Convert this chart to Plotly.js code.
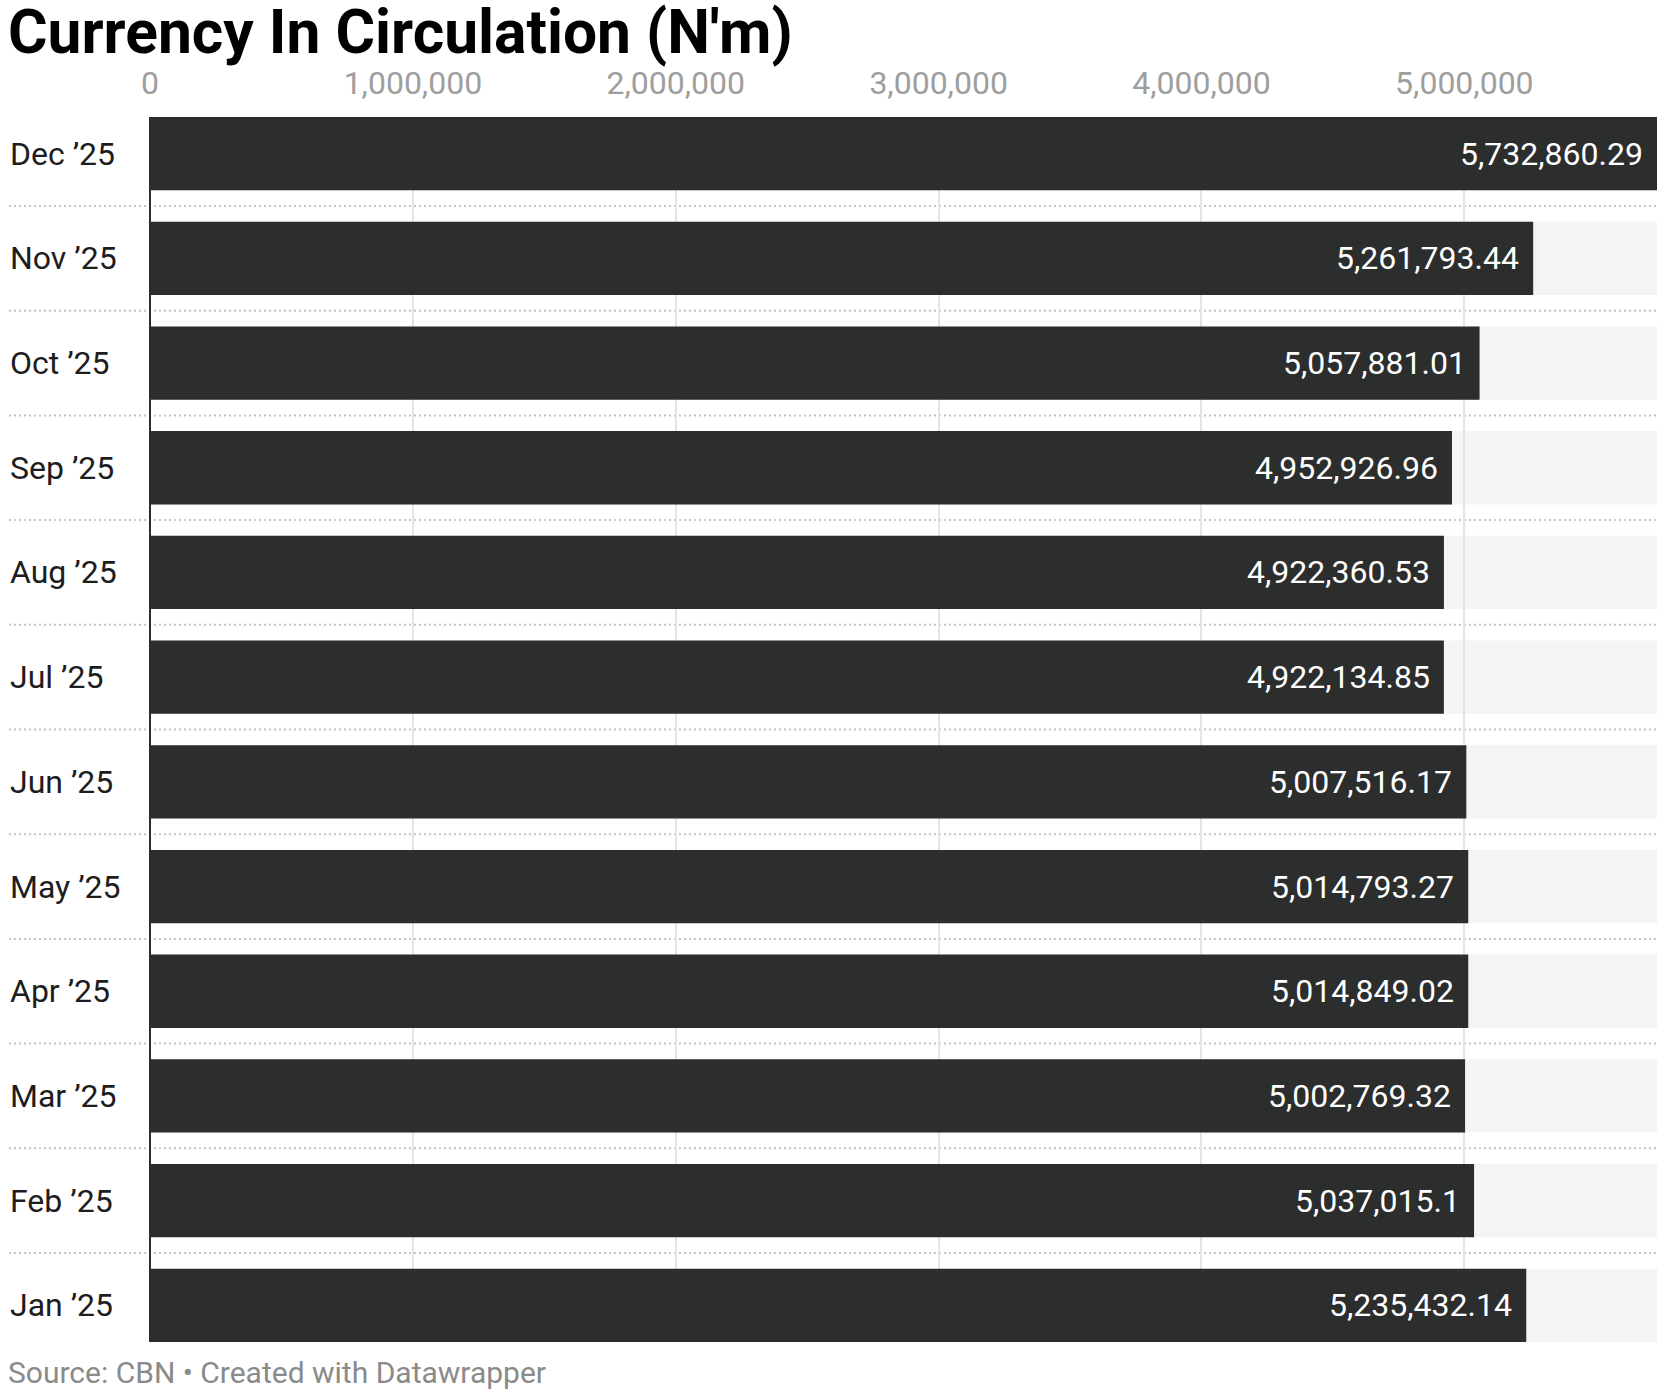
<!DOCTYPE html>
<html>
<head>
<meta charset="utf-8">
<script src="https://cdn.plot.ly/plotly-3.0.1.min.js"></script>
<style>
  html, body { margin: 0; padding: 0; background: #ffffff; }
  #chart { width: 1667px; height: 1400px; }
</style>
</head>
<body>
<div id="chart"></div>
<script>
// ---- Data ----
const months = ["Dec ’25", "Nov ’25", "Oct ’25", "Sep ’25", "Aug ’25", "Jul ’25",
                "Jun ’25", "May ’25", "Apr ’25", "Mar ’25", "Feb ’25", "Jan ’25"];
const currency = [5732860.29, 5261793.44, 5057881.01, 4952926.96, 4922360.53, 4922134.85,
                  5007516.17, 5014793.27, 5014849.02, 5002769.32, 5037015.1, 5235432.14];
const tickValues = [0, 1000000, 2000000, 3000000, 4000000, 5000000];
const titleText = "Currency In Circulation (N'm)";
const sourceText = "Source: CBN • Created with Datawrapper";

// ---- Layout constants ----
const W = 1667, H = 1400;
const mL = 150, mR = 10, mT = 117, mB = 58;
const plotW = W - mL - mR;
const half = 0.35;             // half bar width in category units
const n = months.length;
const maxVal = Math.max(...currency);

const fmt = v => v.toLocaleString("en-US", { maximumFractionDigits: 2 });

const shapes = [];
// light background bands behind each bar
months.forEach((m, i) => {
  shapes.push({
    type: "rect", xref: "x", yref: "y", layer: "below",
    x0: 0, x1: maxVal, y0: i - half, y1: i + half,
    fillcolor: "#f3f4f4", line: { width: 0 }
  });
});
// dotted separators between rows
for (let i = 0; i < n - 1; i++) {
  shapes.push({
    type: "line", xref: "paper", yref: "y", layer: "below",
    x0: (9 - mL) / plotW, x1: 1, y0: i + 0.5, y1: i + 0.5,
    line: { color: "#c4c4c4", width: 2, dash: "2px,3px" }
  });
}

const annotations = [];
// category labels (left aligned)
months.forEach((m, i) => {
  annotations.push({
    xref: "paper", yref: "y", x: (8 - mL) / plotW, y: i,
    xanchor: "left", yanchor: "middle", showarrow: false,
    text: m, font: { family: "Roboto", size: 32, color: "#1d1d1d" }
  });
});
// value labels inside bars
months.forEach((m, i) => {
  annotations.push({
    xref: "x", yref: "y", x: currency[i], y: i,
    xanchor: "right", yanchor: "middle", xshift: -12, showarrow: false,
    text: fmt(currency[i]), font: { family: "Roboto", size: 32, color: "#ffffff" }
  });
});
// source line
annotations.push({
  xref: "paper", yref: "paper", x: (6 - mL) / plotW, y: 0,
  yshift: -(1372 - (H - mB)), xanchor: "left", yanchor: "middle", showarrow: false,
  text: sourceText, font: { family: "Roboto", size: 30, color: "#8a8a8a" }
});

const trace = {
  type: "bar",
  orientation: "h",
  y: months,
  x: currency,
  marker: { color: "#2c2d2d", line: { width: 0 } },
  hoverinfo: "skip"
};

const layout = {
  width: W, height: H,
  margin: { l: mL, r: mR, t: mT, b: mB, pad: 0 },
  paper_bgcolor: "#ffffff",
  plot_bgcolor: "rgba(0,0,0,0)",
  showlegend: false,
  bargap: 0.3,
  title: {
    text: titleText,
    font: { family: "Roboto", size: 60.5, color: "#000000", weight: 700 },
    xref: "container", yref: "container",
    x: 8 / W, xanchor: "left",
    y: 1 - 32 / H, yanchor: "middle"
  },
  xaxis: {
    side: "top",
    range: [0, maxVal],
    tickvals: tickValues,
    ticktext: tickValues.map(v => v.toLocaleString("en-US")),
    tickfont: { family: "Roboto", size: 32, color: "#9e9e9e" },
    ticks: "",
    ticklabelstandoff: 16,
    showgrid: true, gridcolor: "#e4e4e4", gridwidth: 2,
    zeroline: true, zerolinecolor: "#2c2d2d", zerolinewidth: 2,
    showline: false,
    fixedrange: true
  },
  yaxis: {
    type: "category",
    categoryorder: "array", categoryarray: months,
    range: [n - 1 + half, -half],
    showticklabels: false, showgrid: false, zeroline: false, showline: false,
    ticks: "",
    fixedrange: true
  },
  shapes: shapes,
  annotations: annotations
};

Plotly.newPlot("chart", [trace], layout, { displayModeBar: false, staticPlot: true });
</script>
</body>
</html>
